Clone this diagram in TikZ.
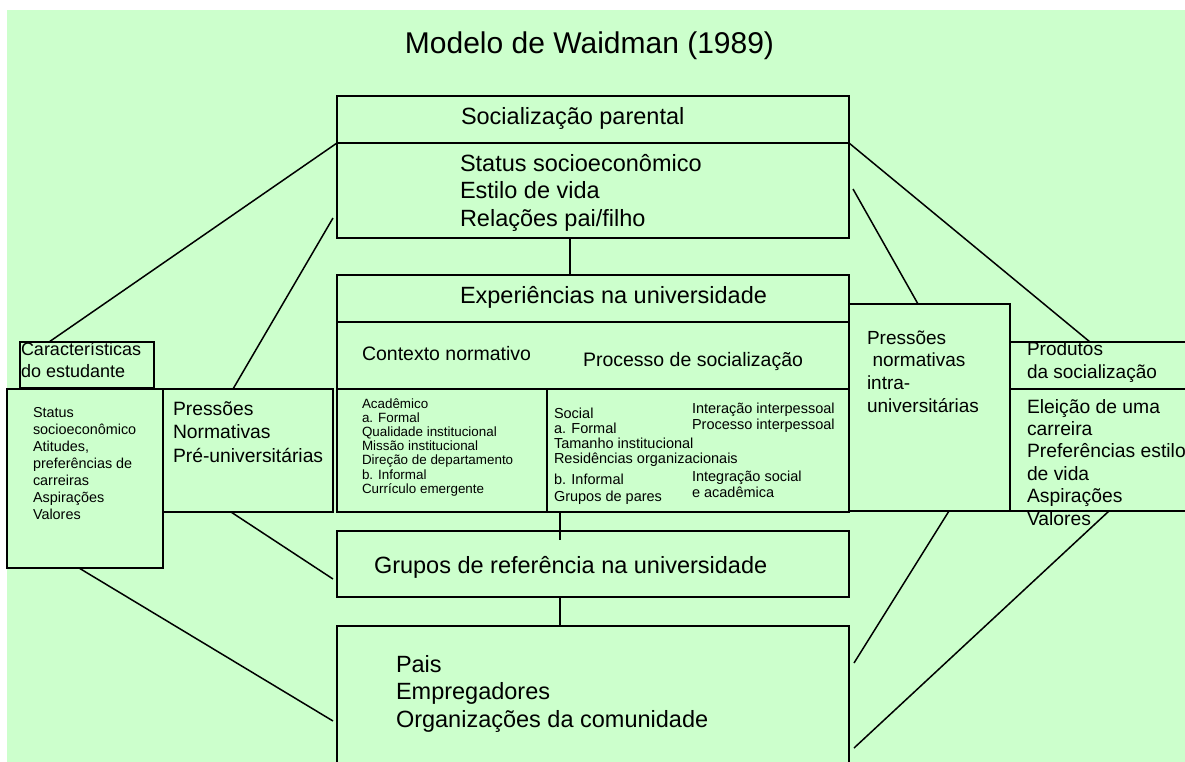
\documentclass[tikz,border=0pt]{standalone}
\usepackage{fontspec}
\setmainfont{Liberation Sans}
\definecolor{bggreen}{RGB}{204,255,204}
\newcommand\stackL[2]{\vtop{\baselineskip=#1\lineskiplimit=-\maxdimen\lineskip=0pt\halign{##\hfil\cr#2\crcr}}}
\newcommand\fs[1]{\fontsize{#1}{#1}\selectfont}
\newcommand\mkbox[5]{\node[boxst, minimum width=\fpeval{#4-#2}pt, minimum height=\fpeval{#5-#3}pt] (#1) at (#2,#3) {};}
\tikzset{
  boxst/.style={draw=black, fill=bggreen, line width=2pt, inner sep=0pt, outer sep=0pt, anchor=north west},
  conn/.style={line width=1.5pt},
  txt/.style={anchor=base west, inner sep=0pt, outer sep=0pt}
}
\begin{document}
\begin{tikzpicture}[x=1pt, y=-1pt]
\useasboundingbox (0,0) rectangle (1185,761);
\clip (0,0) rectangle (1185,761);
\fill[bggreen] (7,10) rectangle (1190,770);

% boxes
\mkbox{soc}{337}{96}{849}{143}
\mkbox{stat}{337}{143}{849}{238}
\mkbox{exp}{337}{275}{849}{322}
\mkbox{ctx}{337}{322}{849}{389}
\mkbox{acad}{337}{389}{547}{512}
\mkbox{social}{547}{389}{849}{512}
\mkbox{grp}{337}{531}{849}{597}
\mkbox{pais}{337}{626}{849}{775}
\mkbox{car}{20}{342}{154}{388}
\mkbox{est}{7}{389}{163}{568}
\mkbox{ppre}{163}{389}{333}{512}
\mkbox{pint}{849}{304}{1010}{511}
\mkbox{prod}{1010}{342}{1195}{389}
\mkbox{elei}{1010}{389}{1195}{511}

% connectors
\draw[conn] (soc.south west) -- ([xshift=29pt]car.north west);
\draw[conn] ([xshift=70pt]ppre.north west) -- ([xshift=-4pt,yshift=-75pt]stat.north west);
\draw[conn] ([xshift=68pt]ppre.south west) -- ([xshift=-4pt,yshift=18pt]grp.south west);
\draw[conn] ([xshift=72pt]est.south west) -- ([xshift=-4pt,yshift=-95pt]pais.north west);
\draw[conn] (soc.south east) -- ([xshift=80pt]prod.north west);
\draw[conn] ([xshift=4pt,yshift=-46pt]stat.north east) -- ([xshift=69pt]pint.north west);
\draw[conn] ([xshift=100pt]pint.south west) -- ([xshift=5pt,yshift=-37pt]pais.north east);
\draw[conn] ([xshift=99pt]elei.south west) -- ([xshift=5pt,yshift=-122pt]pais.north east);
\draw[conn] ([xshift=233pt]stat.south west) -- ([xshift=233pt]exp.north west);
\draw[conn] ([xshift=13pt]social.south west) -- ([xshift=223pt,yshift=-9pt]grp.north west);
\draw[conn] ([xshift=223pt]grp.south west) -- ([xshift=223pt]pais.north west);

% texts
\node[anchor=base, inner sep=0pt] (title) at (589.5,53) {\fs{30}Modelo de Waidman (1989)};
\node[txt] (tsoc) at (461,124) {\fs{23.5}Socialização parental};
\node[txt] (tstat) at (460,171) {\fs{23.5}\stackL{27.5pt}{Status socioeconômico\cr Estilo de vida\cr Relações pai/filho}};
\node[txt] (texp) at (460,303) {\fs{23.5}Experiências na universidade};
\node[txt] (tctx) at (362,360) {\fs{19.5}Contexto normativo};
\node[txt] (tproc) at (583,366) {\fs{19.5}Processo de socialização};
\node[txt] (tacad) at (362,408) {\fs{13.4}\stackL{14.2pt}{Acadêmico\cr a. Formal\cr Qualidade institucional\cr Missão institucional\cr Direção de departamento\cr b. Informal\cr Currículo emergente}};
\node[txt] (tsoca) at (554,418) {\fs{14.5}\stackL{15.3pt}{Social\cr a. Formal\cr Tamanho institucional\cr Residências organizacionais}};
\node[txt] (tsocb) at (554,484) {\fs{14.5}\stackL{17pt}{b. Informal\cr Grupos de pares}};
\node[txt] (tinta) at (692,413) {\fs{14.5}\stackL{16pt}{Interação interpessoal\cr Processo interpessoal}};
\node[txt] (tintb) at (692,481) {\fs{14.5}\stackL{16pt}{Integração social\cr e acadêmica}};
\node[txt] (test) at (33,417) {\fs{14.4}\stackL{17pt}{Status\cr socioeconômico\cr Atitudes,\cr preferências de\cr carreiras\cr Aspirações\cr Valores}};
\node[txt] (tcar) at (21,355) {\fs{18}\stackL{22pt}{Características\cr do estudante}};
\node[txt] (tppre) at (173,415) {\fs{19.3}\stackL{23.5pt}{Pressões\cr Normativas\cr Pré-universitárias}};
\node[txt] (tpint) at (867,344) {\fs{19}\stackL{22.7pt}{Pressões\cr\hspace*{5.5pt}normativas\cr intra-\cr universitárias}};
\node[txt] (tprod) at (1027,355) {\fs{19}\stackL{23pt}{Produtos\cr da socialização}};
\node[txt] (telei) at (1027,413) {\fs{19.3}\stackL{22.4pt}{Eleição de uma\cr carreira\cr Preferências estilo\cr de vida\cr Aspirações\cr Valores}};
\node[txt] (tgrp) at (374,573) {\fs{23.5}Grupos de referência na universidade};
\node[txt] (tpais) at (396,672) {\fs{23.5}\stackL{27.5pt}{Pais\cr Empregadores\cr Organizações da comunidade}};
\end{tikzpicture}
\end{document}
